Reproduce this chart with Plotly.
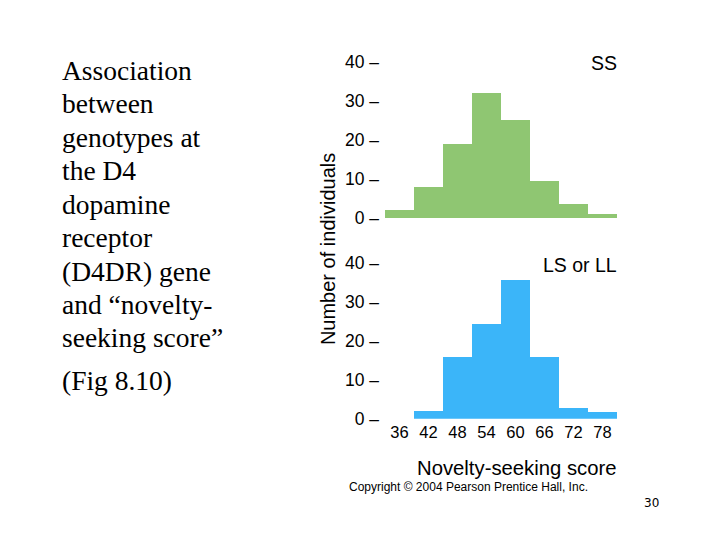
import plotly.graph_objects as go
from plotly.subplots import make_subplots

# bin centres (score) and counts
scores = [36, 42, 48, 54, 60, 66, 72, 78]
ss_counts = [2, 8, 19, 32, 25, 9.5, 3.6, 1]
lsll_counts = [0, 2, 16, 24.3, 35.6, 16, 2.7, 1.8]
y_ticks = [0, 10, 20, 30, 40]

green = "#8fc672"
blue = "#3bb5f9"
sans = "Liberation Sans, Arial, sans-serif"
serif = "Liberation Serif, Times New Roman, serif"


# page pixel -> paper fraction (the photographed page is offset a little)
def px(x):
    return (x - 8) / 720


def py(y):
    return 1 - ((y - 17.4) / 0.965) / 540


fig = make_subplots(rows=2, cols=1)
fig.add_trace(go.Bar(x=scores, y=ss_counts, width=6, marker_color=green,
                     marker_line_width=0), row=1, col=1)
fig.add_trace(go.Bar(x=scores, y=lsll_counts, width=6, marker_color=blue,
                     marker_line_width=0), row=2, col=1)

xdom = [px(385), px(617)]
tickfont = dict(family=sans, size=17.5, color="black")
fig.update_layout(
    width=720, height=540, margin=dict(l=0, r=0, t=0, b=0),
    paper_bgcolor="white", plot_bgcolor="white", showlegend=False,
    bargap=0,
    xaxis=dict(domain=xdom, range=[33, 81], showticklabels=False,
               showgrid=False, zeroline=False),
    xaxis2=dict(domain=xdom, range=[33, 81], tickvals=scores,
                ticktext=[str(s) for s in scores], showgrid=False,
                zeroline=False, ticklabelstandoff=2,
                tickfont=dict(family=sans, size=16.5, color="black")),
    yaxis=dict(domain=[py(218), py(61.7)], range=[0, 40],
               tickvals=y_ticks, ticktext=[f"{v} –" for v in y_ticks],
               showgrid=False, zeroline=False, ticklabelstandoff=5,
               tickfont=tickfont),
    yaxis2=dict(domain=[py(419), py(262.7)], range=[0, 40],
                tickvals=y_ticks, ticktext=[f"{v} –" for v in y_ticks],
                showgrid=False, zeroline=False, ticklabelstandoff=5,
                tickfont=tickfont),
)

notes = [
    dict(x=619, y=62, text="SS", xanchor="right", size=19.5),
    dict(x=619, y=265, text="LS or LL", xanchor="right", size=19.5),
    dict(x=619, y=468, text="Novelty-seeking score", xanchor="right", size=20.3),
    dict(x=347, y=487, text="Copyright © 2004 Pearson Prentice Hall, Inc.",
         xanchor="left", size=12),
]
for n in notes:
    fig.add_annotation(x=px(n["x"]), y=py(n["y"]), xref="paper", yref="paper",
                       text=n["text"], showarrow=False, xanchor=n["xanchor"],
                       yanchor="middle", font=dict(family=sans, size=n["size"], color="black"))

fig.add_annotation(x=px(328), y=py(249), xref="paper", yref="paper",
                   text="Number of individuals", textangle=-90, showarrow=False,
                   font=dict(family=sans, size=20, color="black"))

left_lines = ["Association", "between", "genotypes at", "the D4", "dopamine",
              "receptor", "(D4DR) gene", "and “novelty-", "seeking score”"]
for i, line in enumerate(left_lines):
    fig.add_annotation(x=px(60), y=py(70 + i * 33.5), xref="paper", yref="paper",
                       text=line, showarrow=False, xanchor="left", yanchor="middle",
                       font=dict(family=serif, size=27.5, color="black"))
fig.add_annotation(x=px(60), y=py(381), xref="paper", yref="paper",
                   text="(Fig 8.10)", showarrow=False, xanchor="left", yanchor="middle",
                   font=dict(family=serif, size=27.5, color="black"))
fig.add_annotation(x=px(651), y=py(503), xref="paper", yref="paper",
                   text="30", showarrow=False, xanchor="center", yanchor="middle",
                   font=dict(family="DejaVu Sans", size=12, color="black"))

fig.write_html("out.html")
